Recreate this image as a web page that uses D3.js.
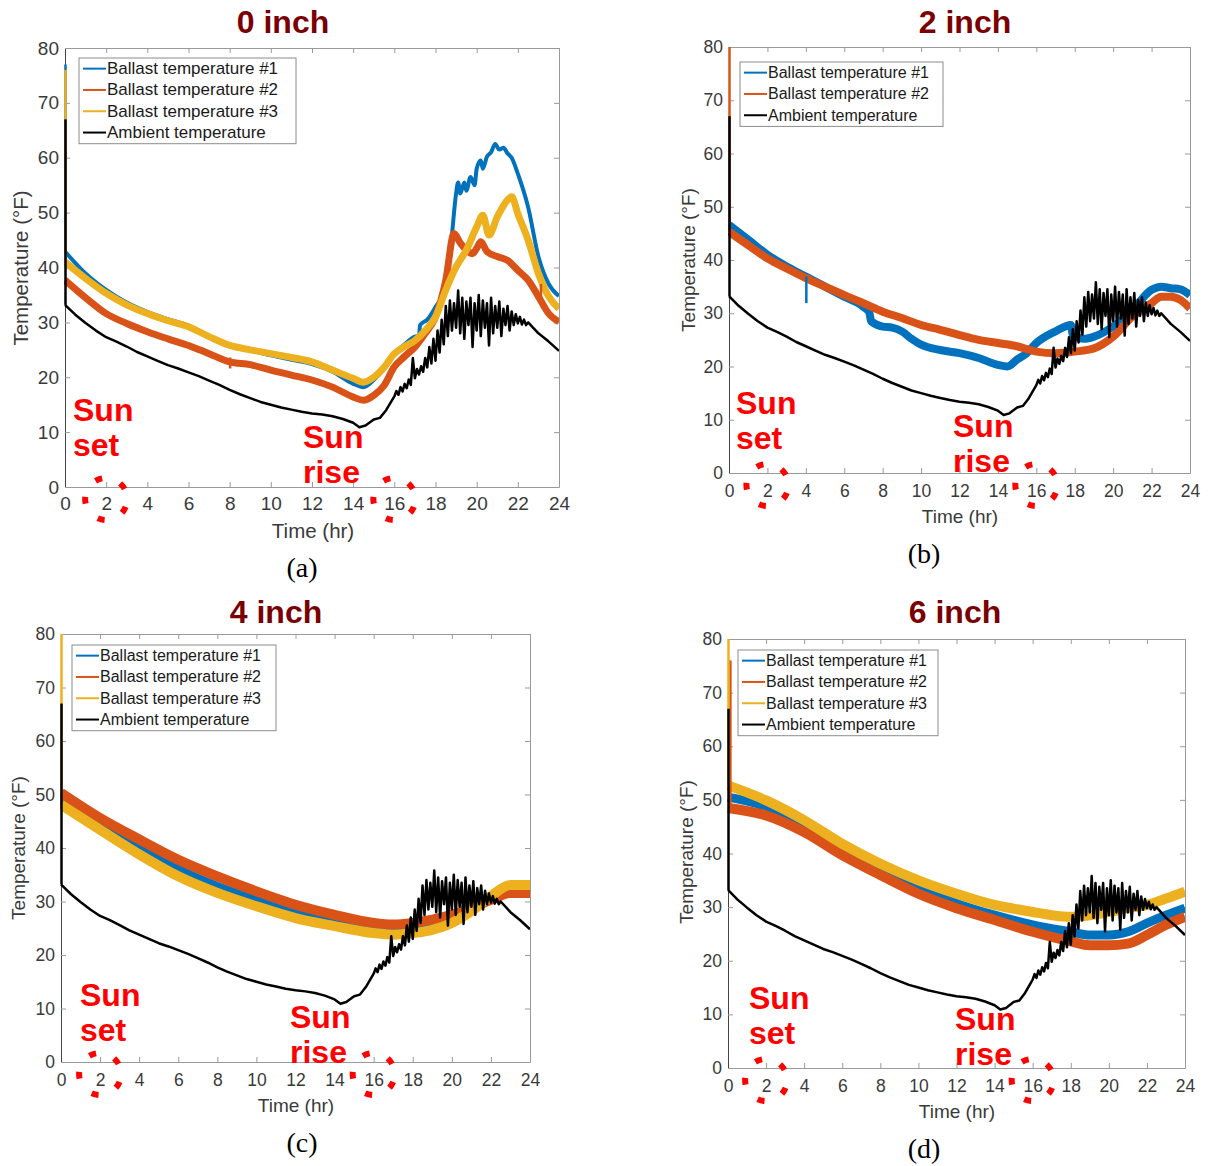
<!DOCTYPE html>
<html>
<head>
<meta charset="utf-8">
<script src="https://cdn.jsdelivr.net/npm/d3@7"></script>
<style>
  body { margin: 0; background: #fff; }
  svg { display: block; font-family: Arial, "Liberation Sans", Helvetica, sans-serif; }
</style>
</head>
<body>
<svg id="fig" width="1208" height="1166"></svg>
<script>
// ---- data: [time (hr), temperature (°F)] ----
const xTicks = d3.range(0, 25, 2);
const yTicks = d3.range(0, 81, 10);
const seriesNames = ["Ballast temperature #1", "Ballast temperature #2", "Ballast temperature #3", "Ambient temperature"];
const seriesColors = ["#0072BD", "#D95319", "#EDB120", "#000000"];
const panelTitles = ["0 inch", "2 inch", "4 inch", "6 inch"];
const panelCaptions = ["(a)", "(b)", "(c)", "(d)"];

// ambient is the same record in all four panels
const ambient = [[0,33.2],[0.5,31.4],[1,29.9],[1.5,28.5],[2,27.3],[2.5,26.5],[3,25.6],[3.5,24.6],[4,23.8],
  [4.5,23.0],[5,22.2],[5.5,21.6],[6,20.9],[6.5,20.2],[7,19.4],[7.5,18.6],[8,17.7],[8.5,16.9],[9,16.2],[9.5,15.5],
  [10,15.0],[10.5,14.5],[11,14.1],[11.5,13.7],[12,13.4],[12.5,13.2],[13,12.9],[13.5,12.4],[14,11.7],[14.3,10.9],
  [14.6,11.2],[15,12.3],[15.3,12.6],[15.6,14.0],[16,16.5],[16.1,17.5],[16.2,16.8],[16.3,18.2],[16.4,17.4],[16.5,18.8],
  [16.6,18.0],[16.7,19.6],[16.8,18.6],[16.9,23.5],[17,19.8],[17.1,21.5],[17.2,20.5],[17.3,22.0],[17.4,21.0],[17.5,23.5],
  [17.6,21.8],[17.7,25.5],[17.8,22.5],[17.9,27.0],[18,23.0],[18.1,28.5],[18.2,24.5],[18.3,30.5],[18.4,26.0],[18.5,33.0],
  [18.6,27.5],[18.7,34.0],[18.8,28.5],[18.9,33.5],[19,29.0],[19.1,35.8],[19.2,28.0],[19.3,34.5],[19.4,27.0],[19.5,33.8],
  [19.6,29.5],[19.7,34.5],[19.8,25.5],[19.9,33.5],[20,28.5],[20.1,35.0],[20.2,27.5],[20.3,34.0],[20.4,29.0],[20.5,33.5],
  [20.6,25.8],[20.7,34.5],[20.8,28.0],[20.9,33.0],[21,29.0],[21.1,33.8],[21.2,27.5],[21.3,32.5],[21.4,29.5],[21.5,33.0],
  [21.6,28.5],[21.7,32.0],[21.8,29.5],[21.9,31.5],[22,29.8],[22.1,31.0],[22.2,29.6],[22.3,30.5],[22.4,29.5],[22.5,30.0],
  [23,28.0],[23.5,26.5],[24,24.8]];

// (a) 0 inch
const a_ballast1 = [[0,42.9],[1,38.9],[2,35.9],[3,33.6],[4,31.9],[5,30.6],[6,29.4],[7,27.5],[8,25.8],[9,24.9],
  [10,24.0],[11,23.2],[12,22.4],[13,21.0],[14,18.8],[14.5,18.2],[15,19.5],[15.5,21.5],[16,24.3],[16.5,26],[17,27.4],
  [17.2,27.6],[17.25,29.5],[17.6,30.5],[18,32.8],[18.4,35.5],[18.6,39],[18.8,46],[19,53.5],[19.1,55.5],[19.2,53.5],
  [19.4,55.5],[19.5,54],[19.7,56.5],[19.9,55],[20,58],[20.2,59.5],[20.3,58],[20.5,60.2],[20.7,61],[20.9,62.5],
  [21.1,61.5],[21.3,61.8],[21.5,60.8],[21.7,60],[22,57.1],[22.5,51],[23,42],[23.5,37],[24,34.8]];
const a_ballast2 = [[0,37.7],[1,34.5],[2,31.6],[3,29.8],[4,28.3],[5,27],[6,25.8],[7,24.3],[8,22.8],
  [9,22.3],[10,21.3],[11,20.4],[12,19.5],[13,18.2],[14,16.4],[14.5,15.8],[15,16.7],[15.5,18.5],[16,21.9],[16.5,23.8],
  [17,25.5],[17.5,28],[18,31],[18.5,37.7],[18.9,46.2],[19.2,44.5],[19.5,43.2],[19.8,42.5],[20,43.5],[20.2,44.7],
  [20.5,42.9],[21,42],[21.5,41.3],[22,39.5],[22.5,37.7],[23,34.7],[23.5,31.6],[24,30.1]];
const a_ballast3 = [[0,41],[1,38],[2,35.3],[3,33.2],[4,31.6],[5,30.3],[6,29.2],[7,27.4],[8,25.8],[9,25.0],
  [10,24.3],[11,23.6],[12,22.8],[13,21.3],[14,19.8],[14.5,19.1],[15,20],[15.5,21.8],[16,24.3],[16.5,25.6],[17,26.7],
  [17.5,28.5],[18,31],[18.5,35.9],[19,40.1],[19.5,43.2],[20,47.4],[20.3,49.5],[20.6,45.9],[21,49.2],[21.5,52.3],
  [21.7,52.9],[22,49.8],[22.5,45],[23,38.9],[23.5,34.7],[24,32.5]];

// (b) 2 inch
const b_ballast1 = [[0,46.6],[1,43.8],[2,41],[3,38.8],[4,36.9],[5,35],[6,33.1],[7,31.2],
  [7.3,30.2],[7.4,28.5],[8,27.5],[8.5,27.3],[9,26.6],[9.5,25.2],[10,24.1],[11,23.1],[12,22.5],[13,21.6],[14,20.3],
  [14.5,20],[15,21.3],[15.5,22.5],[16,24.4],[17,26.6],[17.8,27.8],[17.9,25.8],[18.5,25.2],[19,25.6],[20,27.5],
  [21,30.6],[22,34.4],[22.5,35],[23,34.7],[23.5,34.5],[24,33.4]];
const b_ballast2 = [[0,45.3],[1,42.8],[2,40.3],[3,38.4],[4,36.6],[5,35],[6,33.4],[7,31.9],[8,30.3],[9,29.1],
  [10,27.8],[11,26.9],[12,25.9],[13,25],[14,24.4],[15,23.8],[16,22.8],[17,22.5],[18,22.8],[19,23.4],[20,25.6],
  [21,29.4],[22,31.9],[22.5,33.1],[23,33.1],[23.5,32.5],[24,30.9]];

// (c) 4 inch
const c_ballast1 = [[0,49],[2,44.7],[4,40],[6,36],[8,32.8],[10,30.3],[12,28.2],[14,26.6],[16,25.4],[18,25.4],[20,27.2],
  [22,31],[23,32.2],[24,32.8]];
const c_ballast2 = [[0,50.3],[2,45.6],[4,41.6],[6,37.8],[8,34.7],[10,31.9],[12,29.4],[14,27.5],[16,26],[17,25.7],[18,26],
  [19,26.6],[20,27.5],[21,28.8],[22,30.3],[23,31.6],[24,31.6]];
const c_ballast3 = [[0,48.1],[2,43.4],[4,38.8],[6,34.7],[8,31.6],[10,29.1],[12,26.9],[14,25.4],[16,24.1],
  [17,23.8],[18,24.1],[19,24.7],[20,26],[21,28.2],[22,31],[23,33.1],[24,33.1]];

// (d) 6 inch
const d_ballast1 = [[0,50.5],[2,48.7],[4,44.9],[6,40.6],[8,36.6],[10,33.5],[12,30.7],[14,28.5],[16,26.7],[18,25.4],
  [19,24.8],[20,24.8],[21,25.4],[22,27],[23,28.5],[24,29.8]];
const d_ballast2 = [[0,48.5],[2,47.1],[4,44],[6,39.7],[8,36],[10,32.5],[12,29.8],[14,27.6],
  [16,25.4],[18,23.6],[19,22.9],[20,22.9],[21,23.2],[22,24.8],[23,26.7],[24,28.2]];
const d_ballast3 = [[0,52.7],[2,49.9],[4,46.2],[6,41.8],[8,38.1],[10,35],[12,32.5],[14,30.4],[16,29.1],
  [17,28.5],[18,28.2],[19,28.5],[20,29.1],[21,29.8],[22,30.4],[23,31.6],[24,32.9]];

// single-sample spikes: [time, from °F, to °F, series index]
const ambientSpikes = [[0, 67, 33.2, 3]];
const a_spikes = [[0, 77, 42.9, 0], [0, 76, 41, 2], [8, 23.6, 21.6, 1], [23.1, 37, 34, 1]];
const b_spikes = [[0, 80, 45.3, 1], [4, 36.9, 31.9, 0]];
const c_spikes = [[0, 80, 48.1, 2]];
const d_spikes = [[0, 80, 52.7, 2], [0.1, 76, 49, 1]];

// sun set / sun rise markers (hr)
const sunMarks = [2, 16];

// ---- layout (pixels) ----
const panels = [
  { box: [65, 559, 48, 487], series: [a_ballast1, a_ballast2, a_ballast3, ambient], keys: [0, 1, 2, 3], spikes: a_spikes,
    widths: [4, 7, 7, 2.5], title: [283, 22], xlab: [313, 530], ylab: [20, 268], cap: [302, 567],
    legend: [79, 58, 217], sunSet: [73, 410], sunRise: [303, 437], tick: 19, lab: 20.5, leg: 17, pad: 10 },
  { box: [729, 1190, 47, 473], series: [b_ballast1, b_ballast2, ambient], keys: [0, 1, 3], spikes: b_spikes,
    widths: [8, 8, 2.5], title: [965, 22], xlab: [960, 516], ylab: [688, 260], cap: [924, 553],
    legend: [740, 62, 203], sunSet: [736, 403], sunRise: [953, 426], tick: 17.5, lab: 19, leg: 16, pad: 12 },
  { box: [61, 530, 634, 1062], series: [c_ballast1, c_ballast2, c_ballast3, ambient], keys: [0, 1, 2, 3], spikes: c_spikes,
    widths: [9, 10, 10, 2.5], title: [276, 612], xlab: [296, 1105], ylab: [18, 848], cap: [302, 1142],
    legend: [72, 645, 204], sunSet: [80, 995], sunRise: [290, 1017], tick: 17.5, lab: 19, leg: 16, pad: 12 },
  { box: [728, 1185, 639, 1068], series: [d_ballast1, d_ballast2, d_ballast3, ambient], keys: [0, 1, 2, 3], spikes: d_spikes,
    widths: [9, 10, 10, 2.5], title: [955, 612], xlab: [957, 1111], ylab: [686, 852], cap: [924, 1148],
    legend: [738, 650, 200], sunSet: [749, 998], sunRise: [955, 1019], tick: 17.5, lab: 19, leg: 16, pad: 12 }
];

const svg = d3.select("#fig");
svg.append("rect").attr("width", 1208).attr("height", 1166).attr("fill", "#fff");

panels.forEach((p, i) => {
  const [x0, x1, y0, y1] = p.box;
  const x = d3.scaleLinear().domain([0, 24]).range([x0, x1]);
  const y = d3.scaleLinear().domain([0, 80]).range([y1, y0]);
  const g = svg.append("g");

  // clip for the data lines
  g.append("clipPath").attr("id", "clip" + i)
    .append("rect").attr("x", x0 - 1).attr("y", y0).attr("width", x1 - x0 + 1).attr("height", y1 - y0);

  // axes: ticks inside, MATLAB box style
  const tickLen = 5;
  const axisCol = "#9a9a9a";
  const font = "Arial, 'Liberation Sans', sans-serif";
  g.append("g").attr("transform", `translate(0,${y1})`)
    .call(d3.axisBottom(x).tickValues(xTicks).tickSizeInner(-tickLen).tickSizeOuter(0).tickPadding(p.pad))
    .call(a => a.select(".domain").attr("stroke", axisCol))
    .call(a => a.selectAll(".tick line").attr("stroke", axisCol))
    .call(a => a.selectAll("text").attr("fill", "#3a3a3a").attr("font-size", p.tick).attr("font-family", font));
  g.append("g").attr("transform", `translate(0,${y0})`)
    .call(d3.axisTop(x).tickValues(xTicks).tickSizeInner(-tickLen).tickSizeOuter(0).tickFormat(""))
    .call(a => a.select(".domain").attr("stroke", axisCol))
    .call(a => a.selectAll(".tick line").attr("stroke", axisCol));
  g.append("g").attr("transform", `translate(${x0},0)`)
    .call(d3.axisLeft(y).tickValues(yTicks).tickSizeInner(-tickLen).tickSizeOuter(0).tickPadding(6))
    .call(a => a.select(".domain").attr("stroke", "#444"))
    .call(a => a.selectAll(".tick line").attr("stroke", axisCol))
    .call(a => a.selectAll("text").attr("fill", "#3a3a3a").attr("font-size", p.tick).attr("font-family", font));
  g.append("g").attr("transform", `translate(${x1},0)`)
    .call(d3.axisRight(y).tickValues(yTicks).tickSizeInner(-tickLen).tickSizeOuter(0).tickFormat(""))
    .call(a => a.select(".domain").attr("stroke", axisCol))
    .call(a => a.selectAll(".tick line").attr("stroke", axisCol));

  // data lines
  const smooth = d3.line().x(d => x(d[0])).y(d => y(d[1])).curve(d3.curveMonotoneX);
  const jagged = d3.line().x(d => x(d[0])).y(d => y(d[1]));
  const plot = g.append("g").attr("clip-path", `url(#clip${i})`);
  p.series.forEach((s, k) => {
    const key = p.keys[k];
    plot.append("path").datum(s)
      .attr("fill", "none")
      .attr("stroke", seriesColors[key])
      .attr("stroke-width", p.widths[k])
      .attr("stroke-linejoin", "round")
      .attr("d", key === 3 ? jagged : smooth);
  });
  // thin single-sample spikes, drawn in plotting order (ambient last)
  p.spikes.concat(ambientSpikes).sort((a, b) => a[3] - b[3]).forEach(s => {
    plot.append("line")
      .attr("x1", x(s[0]) + 0.5).attr("x2", x(s[0]) + 0.5)
      .attr("y1", y(s[1])).attr("y2", y(s[2]))
      .attr("stroke", seriesColors[s[3]]).attr("stroke-width", 2.5);
  });

  // legend
  const [lx, ly, lw] = p.legend;
  const rowH = 21.3;
  const lg = g.append("g");
  lg.append("rect").attr("x", lx).attr("y", ly).attr("width", lw).attr("height", rowH * p.keys.length + 0.5)
    .attr("fill", "#fff").attr("stroke", "#8c8c8c").attr("stroke-width", 1);
  p.keys.forEach((key, r) => {
    const cy = ly + rowH * (r + 0.5);
    lg.append("line").attr("x1", lx + 4).attr("x2", lx + 27).attr("y1", cy).attr("y2", cy)
      .attr("stroke", seriesColors[key]).attr("stroke-width", 2);
    lg.append("text").attr("x", lx + 28).attr("y", cy).attr("dominant-baseline", "central")
      .attr("font-size", p.leg).attr("fill", "#1a1a1a").text(seriesNames[key]);
  });

  // titles and labels
  g.append("text").attr("x", p.title[0]).attr("y", p.title[1]).attr("text-anchor", "middle")
    .attr("dominant-baseline", "central").attr("font-size", 32).attr("font-weight", "bold")
    .attr("fill", "#7a0000").text(panelTitles[i]);
  g.append("text").attr("x", p.xlab[0]).attr("y", p.xlab[1]).attr("text-anchor", "middle")
    .attr("dominant-baseline", "central").attr("font-size", p.lab).attr("fill", "#3a3a3a").text("Time (hr)");
  g.append("text").attr("transform", `translate(${p.ylab[0]},${p.ylab[1]}) rotate(-90)`)
    .attr("text-anchor", "middle").attr("dominant-baseline", "central")
    .attr("font-size", p.lab).attr("fill", "#3a3a3a").text("Temperature (°F)");
  g.append("text").attr("x", p.cap[0]).attr("y", p.cap[1]).attr("text-anchor", "middle")
    .attr("dominant-baseline", "central").attr("font-size", 28)
    .attr("font-family", "'Liberation Serif', 'Times New Roman', serif").attr("fill", "#000").text(panelCaptions[i]);

  // Sun set / Sun rise annotations
  const ann = (pos, words) => words.forEach((w, j) => {
    g.append("text").attr("x", pos[0]).attr("y", pos[1] + j * 35).attr("dominant-baseline", "central")
      .attr("font-size", 32).attr("font-weight", "bold").attr("fill", "#ff0000").text(w);
  });
  ann(p.sunSet, ["Sun", "set"]);
  ann(p.sunRise, ["Sun", "rise"]);

  // dotted circles around the sun set / rise times
  sunMarks.forEach(t => {
    g.append("circle").attr("cx", x(t)).attr("cy", y1 + 12).attr("r", 21)
      .attr("fill", "none").attr("stroke", "#ff0000").attr("stroke-width", 6)
      .attr("stroke-dasharray", "7 19.4").attr("stroke-dashoffset", -8);
  });
});
</script>
</body>
</html>
